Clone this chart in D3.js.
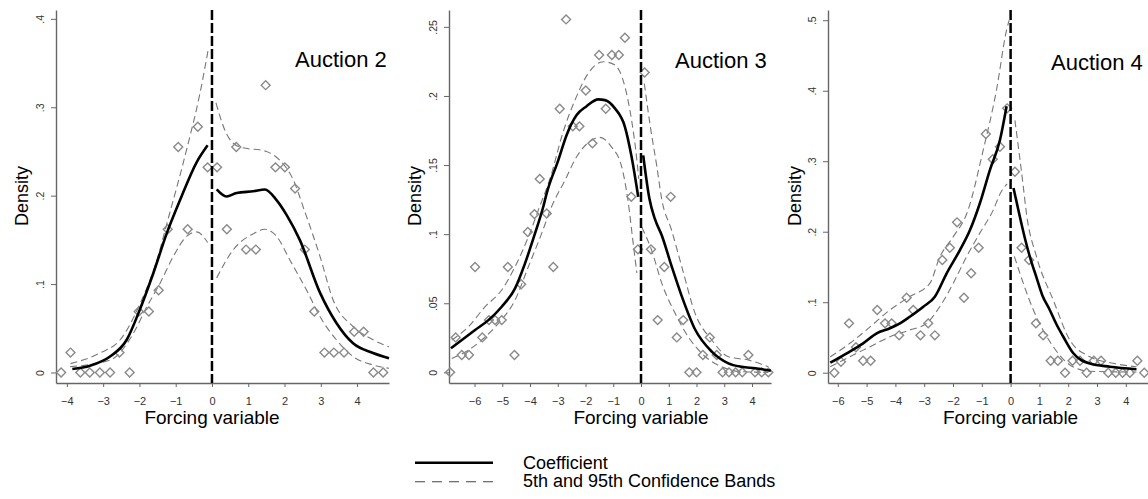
<!DOCTYPE html>
<html><head><meta charset="utf-8">
<script src="https://cdn.jsdelivr.net/npm/d3@7"></script>
<style>
html,body{margin:0;padding:0;background:#fff;}
svg{display:block;font-family:"Liberation Sans",Arial,sans-serif;}
</style></head>
<body>
<svg id="chart" width="1148" height="499"></svg>
<script>
// ---------- DATA ----------
const panelTitles = ["Auction 2", "Auction 3", "Auction 4"];
const xAxisLabel = "Forcing variable";
const yAxisLabel = "Density";
const legendLabels = ["Coefficient", "5th and 95th Confidence Bands"];

// Auction 2
const a2XTicks = [-4, -3, -2, -1, 0, 1, 2, 3, 4];
const a2YTicks = [0, 0.1, 0.2, 0.3, 0.4];
const a2YTickLabels = ["0", ".1", ".2", ".3", ".4"];
const a2Points = [[-4.16,0],[-3.9,0.0225],[-3.63,0],[-3.37,0],[-3.09,0],[-2.81,0],[-2.55,0.0225],[-2.27,0],[-2.02,0.069],[-1.74,0.069],[-1.47,0.093],[-1.22,0.162],[-0.93,0.255],[-0.67,0.162],[-0.39,0.278],[-0.12,0.232],[0.14,0.232],[0.41,0.162],[0.67,0.255],[0.94,0.139],[1.21,0.139],[1.48,0.325],[1.75,0.232],[2.01,0.232],[2.29,0.208],[2.56,0.139],[2.82,0.069],[3.1,0.0225],[3.36,0.0225],[3.64,0.0225],[3.92,0.046],[4.18,0.046],[4.45,0],[4.72,0]];
const a2CoefLeft = [[-3.85,0.004],[-3.36,0.0077],[-2.81,0.018],[-2.35,0.037],[-1.99,0.071],[-1.62,0.112],[-1.25,0.157],[-0.88,0.195],[-0.42,0.238],[-0.12,0.257]];
const a2CoefRight = [[0.13,0.207],[0.4,0.199],[0.68,0.203],[1.14,0.205],[1.46,0.207],[1.78,0.195],[2.06,0.178],[2.42,0.15],[2.98,0.09],[3.43,0.056],[3.89,0.033],[4.44,0.022],[4.88,0.016]];
const a2UpperLeft = [[-3.9,0.01],[-3.09,0.022],[-2.53,0.037],[-1.98,0.078],[-1.52,0.127],[-1.2,0.175],[-0.7,0.252],[-0.33,0.316],[-0.1,0.366]];
const a2UpperRight = [[0.11,0.305],[0.4,0.27],[0.77,0.255],[1.5,0.25],[1.87,0.24],[2.24,0.218],[2.55,0.183],[2.98,0.131],[3.34,0.082],[3.89,0.052],[4.44,0.037],[4.88,0.029]];
const a2LowerLeft = [[-3.91,0.0066],[-2.81,0.014],[-2.17,0.044],[-1.8,0.074],[-1.43,0.101],[-1.07,0.131],[-0.7,0.154],[-0.42,0.159],[-0.12,0.147]];
const a2LowerRight = [[0.13,0.107],[0.59,0.139],[1.14,0.157],[1.46,0.162],[1.78,0.154],[2.15,0.127],[2.61,0.093],[2.98,0.063],[3.43,0.037],[3.89,0.018],[4.44,0.0085],[4.88,0.0047]];

// Auction 3
const a3XTicks = [-6, -5, -4, -3, -2, -1, 0, 1, 2, 3, 4];
const a3YTicks = [0, 0.05, 0.1, 0.15, 0.2, 0.25];
const a3YTickLabels = ["0", ".05", ".1", ".15", ".2", ".25"];
const a3Points = [[-6.88,0],[-6.68,0.0253],[-6.46,0.0125],[-6.2,0.0125],[-5.98,0.0762],[-5.72,0.0253],[-5.48,0.0378],[-5.26,0.0378],[-5.02,0.0378],[-4.8,0.0762],[-4.56,0.0125],[-4.32,0.0637],[-4.08,0.1015],[-3.84,0.1145],[-3.65,0.14],[-3.4,0.115],[-3.16,0.0762],[-2.93,0.1907],[-2.7,0.2554],[-2.46,0.178],[-2.22,0.178],[-1.99,0.204],[-1.75,0.1657],[-1.51,0.2296],[-1.27,0.1907],[-1.05,0.2296],[-0.8,0.2296],[-0.58,0.2421],[-0.35,0.127],[-0.11,0.089],[0.13,0.217],[0.36,0.089],[0.6,0.0378],[0.84,0.0762],[1.07,0.127],[1.29,0.0253],[1.52,0.0378],[1.74,0],[2.0,0],[2.23,0.0125],[2.48,0.0253],[2.73,0.0125],[2.94,0],[3.17,0],[3.41,0],[3.65,0],[3.87,0.0125],[4.11,0],[4.35,0],[4.59,0]];
const a3CoefLeft = [[-6.85,0.0174],[-5.98,0.0306],[-5.5,0.0378],[-5.02,0.0475],[-4.54,0.0608],[-4.18,0.0789],[-3.82,0.1006],[-3.52,0.12],[-3.4,0.1295],[-2.98,0.1536],[-2.68,0.1718],[-2.32,0.1862],[-1.96,0.1926],[-1.54,0.1975],[-1.3,0.197],[-0.94,0.191],[-0.58,0.1777],[-0.34,0.156],[-0.1,0.127]];
const a3CoefRight = [[0.08,0.157],[0.3,0.126],[0.5,0.111],[0.75,0.099],[1.1,0.077],[1.47,0.055],[1.95,0.031],[2.55,0.015],[3.15,0.0065],[3.63,0.004],[4.11,0.003],[4.68,0.0012]];
const a3UpperLeft = [[-6.82,0.0234],[-6.22,0.033],[-5.62,0.0475],[-5.02,0.0596],[-4.54,0.0764],[-4.06,0.098],[-3.7,0.1174],[-3.22,0.144],[-2.86,0.1705],[-2.38,0.197],[-1.9,0.2164],[-1.36,0.2248],[-0.94,0.2224],[-0.58,0.2067],[-0.34,0.1826],[-0.19,0.161],[-0.08,0.14]];
const a3UpperRight = [[0.12,0.209],[0.32,0.18],[0.57,0.149],[0.75,0.125],[1.1,0.103],[1.47,0.0764],[1.95,0.0427],[2.55,0.0234],[3.15,0.0113],[3.87,0.0089],[4.59,0.004]];
const a3LowerLeft = [[-6.82,0.0101],[-6.22,0.0161],[-5.74,0.0234],[-5.14,0.0355],[-4.54,0.0523],[-4.06,0.0764],[-3.58,0.1006],[-3.22,0.12],[-2.74,0.139],[-2.32,0.156],[-1.78,0.168],[-1.48,0.17],[-1.06,0.163],[-0.7,0.149],[-0.46,0.123],[-0.28,0.093],[-0.15,0.072]];
const a3LowerRight = [[0.03,0.105],[0.38,0.0885],[0.75,0.0644],[1.23,0.0427],[1.7,0.0258],[2.19,0.0137],[2.91,0.004],[3.63,0.0005],[4.59,0]];

// Auction 4
const a4XTicks = [-6, -5, -4, -3, -2, -1, 0, 1, 2, 3, 4];
const a4YTicks = [0, 0.1, 0.2, 0.3, 0.4, 0.5];
const a4YTickLabels = ["0", ".1", ".2", ".3", ".4", ".5"];
const a4Points = [[-6.12,0],[-5.89,0.0156],[-5.61,0.07],[-5.37,0.036],[-5.12,0.017],[-4.86,0.017],[-4.63,0.089],[-4.36,0.07],[-4.13,0.07],[-3.87,0.053],[-3.61,0.1064],[-3.38,0.089],[-3.13,0.053],[-2.86,0.07],[-2.63,0.053],[-2.37,0.16],[-2.11,0.1773],[-1.86,0.2133],[-1.62,0.1064],[-1.37,0.141],[-1.11,0.1773],[-0.86,0.3386],[-0.62,0.3027],[-0.37,0.3206],[-0.12,0.375],[0.15,0.2851],[0.38,0.1773],[0.64,0.16],[0.88,0.07],[1.13,0.053],[1.39,0.017],[1.64,0.017],[1.89,0],[2.15,0.017],[2.41,0.017],[2.64,0],[2.89,0.017],[3.14,0.017],[3.39,0],[3.65,0],[3.89,0],[4.14,0],[4.4,0.017],[4.64,0]];
const a4CoefLeft = [[-6.26,0.0142],[-5.69,0.0275],[-5.12,0.0417],[-4.65,0.0559],[-4.19,0.063],[-3.84,0.07],[-3.5,0.0794],[-3.03,0.0936],[-2.63,0.1078],[-2.22,0.141],[-1.76,0.174],[-1.41,0.2024],[-1.07,0.24],[-0.72,0.2875],[-0.37,0.33],[-0.14,0.378]];
const a4CoefRight = [[0.1,0.262],[0.3,0.225],[0.5,0.19],[0.7,0.16],[0.9,0.135],[1.1,0.11],[1.36,0.089],[1.6,0.068],[1.83,0.051],[2.17,0.028],[2.75,0.013],[3.45,0.0085],[4.37,0.005]];
const a4UpperLeft = [[-6.26,0.0227],[-5.58,0.0417],[-4.88,0.065],[-4.19,0.089],[-3.5,0.108],[-2.8,0.127],[-2.46,0.164],[-1.99,0.193],[-1.5,0.228],[-0.95,0.316],[-0.49,0.401],[-0.14,0.486],[-0.05,0.5]];
const a4UpperRight = [[0.15,0.358],[0.44,0.264],[0.55,0.226],[0.9,0.1646],[1.48,0.103],[2.06,0.046],[2.75,0.0227],[3.56,0.0133],[4.37,0.0085]];
const a4LowerLeft = [[-6.26,0.0085],[-5.58,0.0227],[-4.88,0.0369],[-4.19,0.051],[-3.5,0.0606],[-2.92,0.07],[-2.46,0.0936],[-1.99,0.127],[-1.53,0.1646],[-1.07,0.198],[-0.6,0.231],[-0.35,0.255],[-0.12,0.268]];
const a4LowerRight = [[0.13,0.165],[0.79,0.089],[1.48,0.037],[2.06,0.011],[2.75,0.002],[4.37,0.001]];

// ---------- LAYOUT ----------
const panels = [
  {title: panelTitles[0], xTicks: a2XTicks, yTicks: a2YTicks, yLabels: a2YTickLabels,
   points: a2Points, coef: [a2CoefLeft, a2CoefRight], bands: [a2UpperLeft, a2UpperRight, a2LowerLeft, a2LowerRight],
   xRange: [56, 389], xDomain: [-4.3, 4.88], yDomain: [-0.0119, 0.41], titleX: 295, titleY: 67, yLabX: 28},
  {title: panelTitles[1], xTicks: a3XTicks, yTicks: a3YTicks, yLabels: a3YTickLabels,
   points: a3Points, coef: [a3CoefLeft, a3CoefRight], bands: [a3UpperLeft, a3UpperRight, a3LowerLeft, a3LowerRight],
   xRange: [449, 771], xDomain: [-6.92, 4.685], yDomain: [-0.0077, 0.2622], titleX: 675, titleY: 68, yLabX: 421},
  {title: panelTitles[2], xTicks: a4XTicks, yTicks: a4YTicks, yLabels: a4YTickLabels,
   points: a4Points, coef: [a4CoefLeft, a4CoefRight], bands: [a4UpperLeft, a4UpperRight, a4LowerLeft, a4LowerRight],
   xRange: [828, 1148], xDomain: [-6.34, 4.77], yDomain: [-0.0146, 0.5145], titleX: 1051, titleY: 70, yLabX: 801}
];
const yRange = [383, 10];
const axisColor = "#666";
const tickTextColor = "#333";
const bandColor = "#777";
const pointColor = "#8a8a8a";

const svg = d3.select("#chart");

panels.forEach(p => {
  const x = d3.scaleLinear().domain(p.xDomain).range(p.xRange);
  const y = d3.scaleLinear().domain(p.yDomain).range(yRange);
  const g = svg.append("g");

  // axes
  const xAxis = d3.axisBottom(x).tickValues(p.xTicks).tickFormat(d3.format("d")).tickSize(4).tickSizeOuter(0).tickPadding(10);
  const gx = g.append("g").attr("transform", `translate(0,${yRange[0]})`).call(xAxis);
  gx.select(".domain").attr("stroke", axisColor).attr("stroke-width", 1.4);
  gx.selectAll(".tick line").attr("stroke", axisColor).attr("stroke-width", 1);
  gx.selectAll(".tick text").attr("fill", tickTextColor).style("font-size", "11px").style("font-family", "Liberation Sans, Arial, sans-serif");

  const yAxis = d3.axisLeft(y).tickValues(p.yTicks).tickFormat((d, i) => p.yLabels[i]).tickSize(5).tickSizeOuter(0);
  const gy = g.append("g").attr("transform", `translate(${p.xRange[0]},0)`).call(yAxis);
  gy.select(".domain").attr("stroke", axisColor).attr("stroke-width", 1.4);
  gy.selectAll(".tick line").attr("stroke", axisColor).attr("stroke-width", 1);
  gy.selectAll(".tick text").attr("fill", tickTextColor).style("font-size", "10.5px")
    .style("font-family", "Liberation Sans, Arial, sans-serif")
    .attr("x", null).attr("dy", null).attr("y", null)
    .attr("text-anchor", "middle")
    .attr("transform", "translate(-12,0) rotate(-90)");

  // confidence bands
  const line = d3.line().x(d => x(d[0])).y(d => y(d[1])).curve(d3.curveMonotoneX);
  p.bands.forEach(b => {
    g.append("path").attr("d", line(b)).attr("fill", "none")
      .attr("stroke", bandColor).attr("stroke-width", 1.1).attr("stroke-dasharray", "7,4");
  });

  // scatter
  g.selectAll(".pt").data(p.points).enter().append("path")
    .attr("d", d3.symbol(d3.symbolSquare, 40)())
    .attr("transform", d => `translate(${x(d[0])},${y(d[1])}) rotate(45)`)
    .attr("fill", "none").attr("stroke", pointColor).attr("stroke-width", 1.4);

  // coefficient
  p.coef.forEach(c => {
    g.append("path").attr("d", line(c)).attr("fill", "none")
      .attr("stroke", "#000").attr("stroke-width", 2.6).attr("stroke-linejoin", "round");
  });

  // cutoff line
  g.append("line").attr("x1", x(0)).attr("x2", x(0)).attr("y1", yRange[1]).attr("y2", yRange[0])
    .attr("stroke", "#000").attr("stroke-width", 2.5).attr("stroke-dasharray", "10,3");

  // title
  g.append("text").attr("x", p.titleX).attr("y", p.titleY).text(p.title)
    .style("font-size", "22px").attr("fill", "#000");

  // axis labels
  g.append("text").attr("x", x(0)).attr("y", 424).attr("text-anchor", "middle")
    .text(xAxisLabel).style("font-size", "19px").attr("fill", "#000");
  g.append("text").attr("transform", `translate(${p.yLabX},196) rotate(-90)`).attr("text-anchor", "middle")
    .text(yAxisLabel).style("font-size", "18px").attr("fill", "#000");
});

// legend
const legend = svg.append("g");
legend.append("line").attr("x1", 415).attr("x2", 493).attr("y1", 462.7).attr("y2", 462.7)
  .attr("stroke", "#000").attr("stroke-width", 2.6);
legend.append("line").attr("x1", 415).attr("x2", 493).attr("y1", 481.7).attr("y2", 481.7)
  .attr("stroke", "#444").attr("stroke-width", 1.1).attr("stroke-dasharray", "10,7");
legend.append("text").attr("x", 523).attr("y", 468.5).text(legendLabels[0]).style("font-size", "18px");
legend.append("text").attr("x", 523).attr("y", 487).text(legendLabels[1]).style("font-size", "18px");
</script>
</body></html>
